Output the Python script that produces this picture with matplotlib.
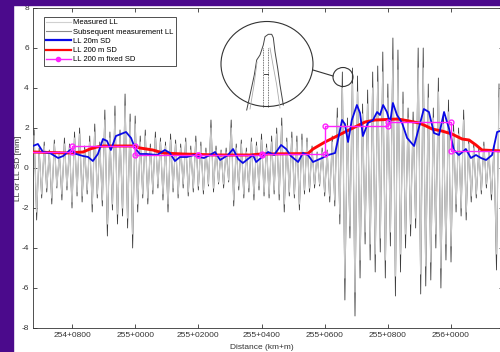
import numpy as np
import matplotlib.pyplot as plt
from matplotlib.patches import Ellipse, Rectangle

plt.rcParams['font.family'] = ['Liberation Sans', 'DejaVu Sans']
plt.rcParams['axes.unicode_minus'] = False

# distance in m counted from 254+0000
x_sig = np.arange(680, 2156, 8)

ll_subsequent = [
    1.9, -2.6, 1.0, -1.5, 1.3, -1.2, 0.9, -1.8,
    1.4, -1.0, 0.8, -1.6, 1.5, -1.1, 1.2, -2.0,
    1.8, -1.4, 2.0, -1.7, 1.1, -1.3, 1.6, -2.2,
    2.2, -1.5, 1.3, -1.9, 2.9, -3.4, 1.8, -2.1,
    3.1, -2.8, 1.9, -2.4, 3.7, -3.0, 2.7, -4.0,
    2.6, -2.2, 1.6, -1.5, 1.9, -1.8, 1.2, -1.3,
    1.8, -1.0, 1.5, -1.6, 1.3, -2.2, 1.7, -1.2,
    1.4, -1.5, 1.2, -1.0, 1.5, -1.4, 1.1, -1.2,
    1.6, -1.1, 1.3, -1.3, 1.0, -0.9, 2.4, -1.2,
    1.1, -0.8, 0.9, -1.0, 1.0, -0.7, 2.4, -1.9,
    1.2, -1.1, 1.4, -1.5, 1.0, -1.2, 1.5, -1.6,
    1.3, -1.1, 1.7, -1.4, 1.2, -1.5, 1.6, -1.3,
    2.0, -1.6, 2.5, -2.2, 1.5, -1.4, 1.8, -1.5,
    1.6, -2.1, 1.7, -1.3, 1.5, -1.2, 1.1, -1.0,
    0.8, -0.9, 1.0, -1.4, 0.9, -1.7, 1.6, -1.9,
    3.0, -2.8, 4.8, -6.6, 2.5, -3.5, 5.0, -7.4,
    4.6, -5.5, 3.2, -3.8, 3.9, -4.6, 4.8, -5.2,
    5.1, -4.2, 5.8, -5.5, 4.2, -3.9, 6.5, -6.4,
    5.9, -5.2, 3.8, -4.0, 3.0, -3.4, 2.8, -3.0,
    6.0, -6.3, 6.0, -5.9, 4.2, -5.6, 3.0, -4.0,
    4.5, -6.0, 2.7, -4.6, 3.4, -4.7, 2.2, -2.2,
    2.0, -2.4, 2.9, -2.6, 1.4, -1.7, 1.2, -1.5,
    1.0, -1.3, 1.3, -1.0, 0.9, -1.6, 1.1, -5.1,
    4.2]

ll_measured = [
    1.6, -2.2, 0.8, -1.3, 1.1, -1.0, 0.8, -1.5,
    1.2, -0.9, 0.7, -1.3, 1.2, -0.9, 1.0, -1.7,
    1.5, -1.2, 1.7, -1.4, 0.9, -1.1, 1.3, -1.8,
    1.8, -1.3, 1.1, -1.6, 2.4, -2.8, 1.5, -1.8,
    2.6, -2.3, 1.6, -2.0, 3.1, -2.5, 2.3, -3.3,
    2.2, -1.8, 1.3, -1.3, 1.6, -1.5, 1.0, -1.1,
    1.5, -0.8, 1.3, -1.3, 1.1, -1.8, 1.4, -1.0,
    1.2, -1.3, 1.0, -0.8, 1.3, -1.2, 0.9, -1.0,
    1.3, -0.9, 1.1, -1.1, 0.8, -0.8, 2.0, -1.0,
    0.9, -0.7, 0.8, -0.8, 0.8, -0.6, 2.0, -1.6,
    1.0, -0.9, 1.2, -1.3, 0.8, -1.0, 1.3, -1.3,
    1.1, -0.9, 1.4, -1.2, 1.0, -1.3, 1.3, -1.1,
    1.7, -1.3, 2.1, -1.8, 1.3, -1.2, 1.5, -1.3,
    1.3, -1.8, 1.4, -1.1, 1.3, -1.0, 0.9, -0.8,
    0.7, -0.8, 0.8, -1.2, 0.8, -1.4, 1.3, -1.6,
    2.5, -2.3, 4.0, -5.5, 2.1, -2.9, 4.2, -6.2,
    3.8, -4.6, 2.7, -3.2, 3.2, -3.8, 4.0, -4.3,
    4.3, -3.5, 4.8, -4.6, 3.5, -3.2, 5.4, -5.4,
    4.9, -4.3, 3.2, -3.3, 2.5, -2.8, 2.3, -2.5,
    5.0, -5.3, 5.0, -4.9, 3.5, -4.7, 2.5, -3.3,
    3.8, -5.0, 2.2, -3.8, 2.8, -3.9, 1.8, -1.8,
    1.7, -2.0, 2.4, -2.2, 1.2, -1.4, 1.0, -1.3,
    0.8, -1.1, 1.1, -0.8, 0.8, -1.3, 0.9, -4.3,
    3.5]

sd20_x = [676, 692, 708, 730, 756, 772, 794, 813, 835, 851, 866, 882, 898, 911,
          923, 939, 955, 971, 987, 999, 1015, 1037, 1069, 1094, 1110, 1126, 1142,
          1164, 1186, 1202, 1218, 1237, 1253, 1269, 1294, 1310, 1326, 1341, 1357,
          1373, 1383, 1398, 1421, 1440, 1462, 1478, 1493, 1516, 1531, 1547, 1563,
          1592, 1611, 1633, 1642, 1655, 1664, 1674, 1686, 1702, 1712, 1721, 1737,
          1753, 1766, 1775, 1785, 1797, 1807, 1816, 1829, 1845, 1861, 1883, 1899,
          1914, 1930, 1946, 1962, 1978, 1994, 2009, 2025, 2047, 2063, 2079, 2095,
          2111, 2130, 2146, 2165]
sd20 = [1.1, 1.2, 0.8, 0.75, 0.5, 0.6, 0.9, 0.7, 0.6, 0.55, 0.35, 0.7, 1.45, 1.35,
        0.9, 1.6, 1.7, 1.8, 1.5, 1.0, 0.7, 0.7, 0.65, 0.9, 0.75, 0.35, 0.55,
        0.55, 0.65, 0.55, 0.5, 0.65, 0.8, 0.4, 0.65, 0.95, 0.45, 0.25, 0.45,
        0.65, 0.3, 0.5, 0.8, 0.65, 1.15, 0.95, 0.6, 0.3, 0.75, 0.65, 0.3,
        0.5, 0.65, 0.75, 1.4, 2.4, 2.2, 1.3, 2.4, 3.15, 2.75, 1.6, 2.25,
        2.4, 2.8, 2.65, 3.15, 2.8, 2.25, 3.25, 2.65, 2.25, 1.5, 1.1, 2.05,
        2.95, 2.8, 1.75, 1.65, 2.8, 1.95, 0.9, 0.65, 0.95, 0.5, 0.65, 0.5,
        0.4, 0.65, 1.8, 1.9]

sd200_x = [676, 784, 835, 857, 879, 898, 993, 1015, 1056, 1088, 1151, 1259, 1364,
           1398, 1547, 1563, 1601, 1633, 1664, 1696, 1728, 1759, 1832, 1867, 1899,
           1921, 1940, 1971, 2003, 2035, 2057, 2079, 2098, 2165]
sd200 = [0.8, 0.75, 0.8, 0.95, 1.05, 1.1, 1.1, 1.0, 0.9, 0.75, 0.7, 0.65, 0.65,
         0.7, 0.72, 0.95, 1.3, 1.55, 1.8, 2.05, 2.3, 2.4, 2.45, 2.35, 2.25,
         2.1, 1.95, 1.85, 1.7, 1.45, 1.4, 1.15, 0.9, 0.85]

fixed_edges = [676, 800, 1000, 1200, 1400, 1600, 1800, 2000, 2165]
fixed_sd = [0.8, 1.1, 0.65, 0.65, 0.7, 2.1, 2.3, 0.85]

tick_pos = [800, 1000, 1200, 1400, 1600, 1800, 2000]
tick_lab = ['254+0800', '255+0000', '255+02000', '255+0400', '255+0600',
            '255+0800', '256+0000']

fig = plt.figure(figsize=(5, 3.52), dpi=100)
ax = fig.add_axes([33/500, 24/352, 470/500, 320/352])

ax.plot(x_sig, ll_subsequent, color='#3c3c3c', lw=0.6, zorder=2)
ax.plot(x_sig, ll_measured, color='#c8c8c8', lw=0.9, zorder=3)
ax.plot(sd200_x, sd200, color='#ff0808', lw=2.1, zorder=4)
ax.plot(sd20_x, sd20, color='#0a0ae6', lw=1.3, zorder=5)

fx, fy = [], []
for i, v in enumerate(fixed_sd):
    fx += [fixed_edges[i], fixed_edges[i+1]]
    fy += [v, v]
ax.plot(fx, fy, color='#ff22ff', lw=1.0, marker='o', ms=3.5, mfc='none',
        mew=1.0, markevery=list(range(1, len(fx)-1)), zorder=6)

# legend handles
h1, = ax.plot([], [], color='#d0d0d0', lw=0.8)
h2, = ax.plot([], [], color='#8a8a8a', lw=0.8)
h3, = ax.plot([], [], color='#0a0ae6', lw=1.6)
h4, = ax.plot([], [], color='#ff0808', lw=1.6)
h5, = ax.plot([], [], color='#ff22ff', lw=1.0, marker='o', ms=3)
leg = ax.legend([h1, h2, h3, h4, h5],
                ['Measured LL', 'Subsequent measurement LL', 'LL 20m SD',
                 'LL 200 m SD', 'LL 200 m fixed SD'],
                loc='upper left', bbox_to_anchor=(40/500, 1-13/352),
                bbox_transform=fig.transFigure, fontsize=5.5, fancybox=False,
                edgecolor='#333333', framealpha=1, borderpad=0.3,
                handlelength=3.2, handletextpad=0.3, labelspacing=0.25)
leg.get_frame().set_linewidth(0.6)
leg.set_zorder(10)

ax.set_xlim(676.5, 2164.6)
ax.set_ylim(-8, 8)
ax.set_xticks(tick_pos)
ax.set_xticklabels(tick_lab)
ax.set_yticks(range(-8, 9, 2))
ax.tick_params(direction='in', length=3, width=0.6, labelsize=6,
               colors='#333333', top=True, right=True, pad=3)
for s in ax.spines.values():
    s.set_color('#333333')
    s.set_linewidth(0.6)
ax.set_ylabel('LL or LL SD [mm]', fontsize=6, color='#333333')
ax.yaxis.set_label_coords(-0.024, 0.5)
ax.set_xlabel('Distance (km+m)', fontsize=6, color='#333333')
ax.xaxis.set_label_coords(0.487, -0.05)

# magnifier sketch
ov = fig.add_axes([0, 0, 1, 1])
ov.set_xlim(0, 500)
ov.set_ylim(352, 0)
ov.axis('off')
ov.patch.set_alpha(0)
ov.add_patch(Ellipse((267, 64), 92, 85, fc='white', ec='#333333', lw=0.8))
ov.add_patch(Ellipse((343, 77), 20, 19, fc='none', ec='#333333', lw=0.8))
ov.plot([313, 333], [70, 76], color='#333333', lw=0.8)
ov.plot([246.7, 250, 254.3, 256.7, 260, 263.3, 265, 268.3, 271.7, 273.3, 275, 277.7, 280, 283.3],
        [110, 95, 75, 60, 55, 45, 36.7, 34.3, 34.3, 37.7, 51.7, 68.3, 85, 105],
        color='#444444', lw=0.7)
ov.plot([250, 254, 257], [109, 85, 62], color='#aaaaaa', lw=0.6)
ov.plot([270, 273, 276.7, 280], [48, 65, 85, 108], color='#aaaaaa', lw=0.6)
ov.plot([263.3, 263.3], [48, 107], color='#444444', lw=0.6, ls=(0, (1, 1)))
ov.plot([268.3, 268.3], [48, 107], color='#444444', lw=0.6, ls=(0, (1, 1)))
ov.plot([264, 268], [74, 74], color='#444444', lw=0.7)

# purple slide frame
fig.patches.append(Rectangle((0, 0), 13/500, 1, transform=fig.transFigure,
                             color='#4b0a8c', zorder=20))
fig.patches.append(Rectangle((0, 1-5/352), 1, 5/352, transform=fig.transFigure,
                             color='#4b0a8c', zorder=20))

fig.savefig('out.png', dpi=100)
